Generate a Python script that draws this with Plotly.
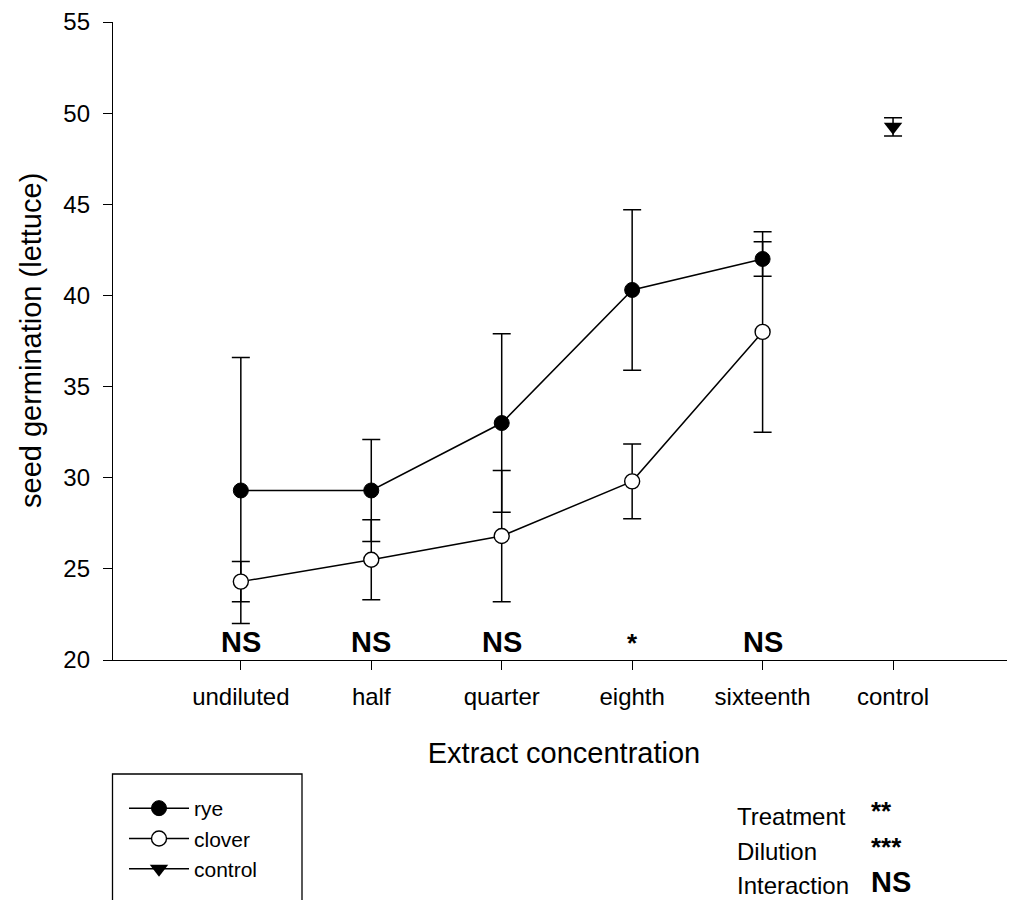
import plotly.graph_objects as go

categories = ["undiluted", "half", "quarter", "eighth", "sixteenth", "control"]
rye_x = ["undiluted", "half", "quarter", "eighth", "sixteenth"]
rye_y = [29.3, 29.3, 33.0, 40.3, 42.0]
rye_err = [7.3, 2.8, 4.9, 4.4, 0.95]
clover_y = [24.3, 25.5, 26.8, 29.8, 38.0]
clover_err = [1.1, 2.2, 3.6, 2.05, 5.5]
control_x = ["control"]
control_y = [49.25]
control_err = [0.5]
sig_labels = ["NS", "NS", "NS", "*", "NS"]
stat_terms = ["Treatment", "Dilution", "Interaction"]
stat_sigs = ["**", "***", "NS"]
y_title = "seed germination (lettuce)"
x_title = "Extract concentration"

FONT = "Arial, Liberation Sans, sans-serif"
OFF = 8  # page body margin offset in the browser
W, H = 1015 - OFF, 900 - OFF
ML, MR, MT, MB = 113 - OFF, 0, 22 - OFF, 240
PW, PH = W - ML - MR, H - MT - MB
xi = {c: i for i, c in enumerate(categories)}


def px(x):
    return (x - OFF - ML) / PW


def py(y):
    return (H - MB - (y - OFF)) / PH


fig = go.Figure()
eb = dict(type="data", thickness=1.5, width=9, color="black")
fig.add_trace(go.Scatter(
    x=[xi[c] for c in rye_x], y=rye_y, name="rye", mode="lines+markers",
    line=dict(color="black", width=1.5),
    marker=dict(symbol="circle", size=15, color="black", line=dict(color="black", width=1)),
    error_y=dict(array=rye_err, **eb)))
fig.add_trace(go.Scatter(
    x=[xi[c] for c in rye_x], y=clover_y, name="clover", mode="lines+markers",
    line=dict(color="black", width=1.5),
    marker=dict(symbol="circle", size=15, color="white", line=dict(color="black", width=1.4)),
    error_y=dict(array=clover_err, **eb)))
fig.add_trace(go.Scatter(
    x=[xi[c] for c in control_x], y=control_y, name="control", mode="lines+markers",
    line=dict(color="black", width=1.5),
    marker=dict(symbol="triangle-down", size=16, color="black"),
    error_y=dict(array=control_err, **eb)))

for c, s in zip(rye_x, sig_labels):
    fig.add_annotation(x=xi[c], y=20, yref="y", text=f"<b>{s}</b>", showarrow=False,
                       yanchor="bottom", font=dict(family=FONT, size=29 if s == "NS" else 26,
                                                   color="black"))

# stats text
term_y = [816, 851, 885]
sig_y = [811, 847, 882]
for term, sig, ty, sy in zip(stat_terms, stat_sigs, term_y, sig_y):
    fig.add_annotation(xref="paper", yref="paper", x=px(735), y=py(ty), text=term,
                       showarrow=False, xanchor="left", yanchor="middle",
                       font=dict(family=FONT, size=24, color="black"))
    fig.add_annotation(xref="paper", yref="paper", x=px(869), y=py(sy), text=f"<b>{sig}</b>",
                       showarrow=False, xanchor="left", yanchor="middle",
                       font=dict(family=FONT, size=29 if sig == "NS" else 26, color="black"))

# y-axis title
fig.add_annotation(xref="paper", yref="paper", x=px(31), y=py(341), text=y_title,
                   textangle=-90, showarrow=False, xanchor="center", yanchor="middle",
                   font=dict(family=FONT, size=29, color="black"))

# legend box
fig.add_shape(type="rect", xref="paper", yref="paper",
              x0=px(112.5), x1=px(302), y0=py(910), y1=py(774),
              line=dict(color="black", width=1.3), fillcolor="rgba(0,0,0,0)")

fig.update_layout(
    width=W, height=H,
    margin=dict(l=ML, r=MR, t=MT, b=MB, autoexpand=False),
    plot_bgcolor="white", paper_bgcolor="white",
    font=dict(family=FONT, color="black"),
    showlegend=True,
    legend=dict(xref="container", yref="container", x=(124 - OFF) / W, y=(H - (788 - OFF)) / H,
                xanchor="left", yanchor="top",
                bgcolor="rgba(0,0,0,0)", borderwidth=0, font=dict(family=FONT, size=21),
                tracegroupgap=0, itemwidth=60),
    xaxis=dict(range=[-0.98, 5.935], tickvals=list(range(len(categories))), ticktext=categories,
               showline=True, linecolor="black", linewidth=1.3, ticks="outside", ticklen=9,
               tickcolor="black", tickwidth=1.3, showgrid=False, zeroline=False,
               tickfont=dict(family=FONT, size=24), ticklabelstandoff=6,
               title=dict(text=x_title, font=dict(family=FONT, size=29), standoff=33)),
    yaxis=dict(range=[20, 55], dtick=5, showline=True, linecolor="black", linewidth=1.3,
               ticks="outside", ticklen=9, tickcolor="black", tickwidth=1.3, showgrid=False,
               zeroline=False,
               tickfont=dict(family=FONT, size=24), ticklabelstandoff=8),
)

fig.write_html("out.html")
